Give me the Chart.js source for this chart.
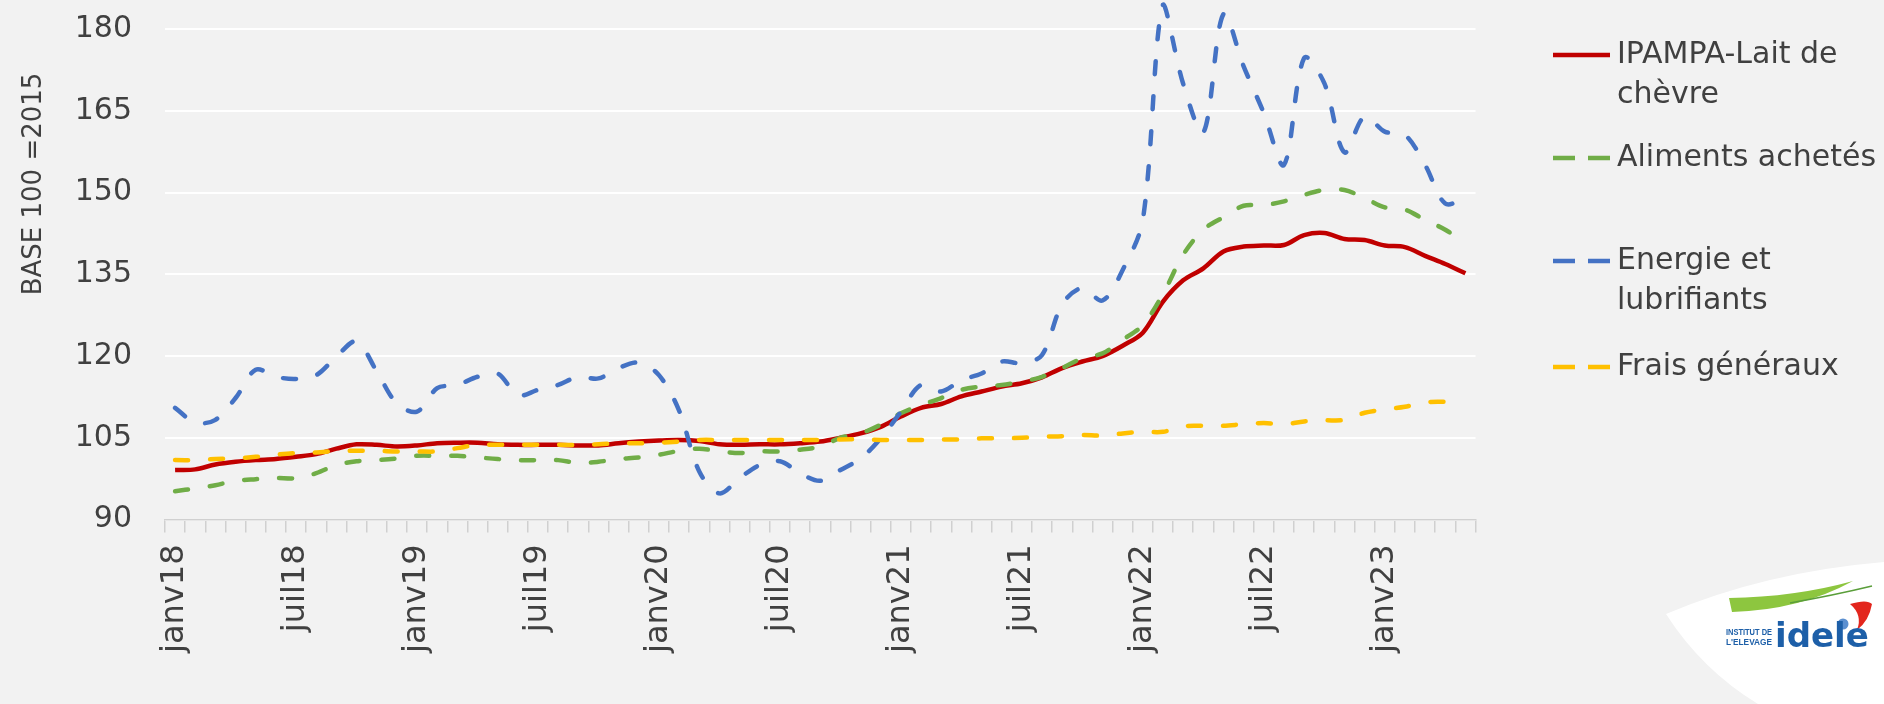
<!DOCTYPE html>
<html><head><meta charset="utf-8">
<script src="https://cdn.jsdelivr.net/npm/chart.js@4.4.1/dist/chart.umd.min.js"></script>
<style>
html,body{margin:0;padding:0;background:#f2f2f2;}
#wrap{position:relative;width:1884px;height:704px;}
</style></head><body>
<div id="wrap"><canvas id="c"></canvas></div>
<script>
const months = ['janv','févr','mars','avr','mai','juin','juil','août','sept','oct','nov','déc'];
const years = ['18','19','20','21','22','23'];
const categories = years.flatMap(y => months.map(m => m + y)).slice(0, 65);

const ipampa = [99.1,99.2,100.1,100.6,100.9,101.1,101.5,102.0,103.0,103.8,103.7,103.4,103.6,104.0,104.1,104.1,103.8,103.7,103.7,103.7,103.6,103.6,104.0,104.3,104.5,104.6,104.4,103.8,103.7,103.8,103.8,104.0,104.3,105.0,105.8,107.0,108.9,110.5,111.2,112.6,113.5,114.4,115.0,116.1,117.8,119.0,120.0,121.9,124.3,130.0,133.9,136.1,139.2,140.1,140.3,140.4,142.2,142.6,141.5,141.3,140.3,140.0,138.4,136.9,135.2];
const aliments = [95.2,95.7,96.3,97.1,97.4,97.6,97.6,98.5,100.0,100.7,100.9,101.2,101.7,101.7,101.7,101.4,101.1,100.9,100.9,100.9,100.4,100.6,101.1,101.4,101.9,102.6,103.0,102.5,102.2,102.5,102.5,102.8,103.4,105.0,105.8,107.4,109.5,111.0,112.3,113.8,114.4,114.7,115.3,116.2,117.8,119.6,120.5,123.0,125.7,131.4,138.6,143.2,145.5,147.6,147.7,148.4,149.6,150.5,150.5,149.0,147.3,146.9,145.0,143.2,140.7];
const energie = [110.5,107.8,108.3,112.3,117.5,116.2,115.8,116.5,119.9,122.7,117.2,111.3,109.8,114.1,114.7,116.2,116.8,112.8,113.8,114.7,116.2,115.9,117.8,118.8,116.5,110.0,98.8,94.8,97.6,100.0,100.7,98.5,97.1,99.1,101.2,104.9,109.8,114.7,113.5,115.6,116.8,119.0,118.7,120.2,129.5,132.5,130.2,135.8,145.0,184.5,170.0,161.0,182.8,173.2,164.6,155.1,174.7,170.1,157.4,164.0,161.2,160.6,155.1,148.0,149.0];
const frais = [100.9,100.9,101.1,101.2,101.5,101.9,102.2,102.3,102.6,102.6,102.6,102.5,102.5,102.5,103.1,103.7,103.7,103.7,103.7,103.7,103.7,103.8,104.0,104.0,104.1,104.3,104.6,104.6,104.6,104.6,104.6,104.6,104.6,104.7,104.7,104.6,104.6,104.6,104.7,104.7,104.9,104.9,105.0,105.2,105.3,105.5,105.4,105.8,106.1,106.1,107.1,107.2,107.2,107.5,107.7,107.5,108.0,108.2,108.3,109.6,110.2,110.7,111.5,111.6,111.6];

const yTicks = [90, 105, 120, 135, 150, 165, 180];
const seriesNames = ['IPAMPA-Lait de chèvre', 'Aliments achetés', 'Energie et lubrifiants', 'Frais généraux'];
const legendLines = [['IPAMPA-Lait de', 'chèvre'], ['Aliments achetés'], ['Energie et', 'lubrifiants'], ['Frais généraux']];
const yTitle = 'BASE 100 =2015';
const logoLines = ['INSTITUT DE', "L'ELEVAGE", 'idele'];

const FONT = "'DejaVu Sans', sans-serif";
const TXT = '#404040';
const DASH = [13, 22];

const decor = {
  id: 'decor',
  afterDraw(chart) {
    const ctx = chart.ctx;
    // y axis title
    ctx.save();
    ctx.translate(34, 184);
    ctx.rotate(-Math.PI / 2);
    ctx.font = '26px ' + FONT;
    ctx.fillStyle = TXT;
    ctx.textAlign = 'center';
    ctx.textBaseline = 'middle';
    ctx.fillText(yTitle, 0, 0);
    ctx.restore();

    // legend
    const rowsY = [55, 158, 261, 367];
    ctx.save();
    ctx.font = '30px ' + FONT;
    ctx.fillStyle = TXT;
    ctx.textBaseline = 'middle';
    ctx.textAlign = 'left';
    chart.data.datasets.forEach((ds, k) => {
      const y = rowsY[k];
      ctx.save();
      ctx.strokeStyle = ds.borderColor;
      ctx.lineWidth = 4.5;
      ctx.lineCap = 'butt';
      ctx.setLineDash(ds.borderDash && ds.borderDash.length ? [22, 13] : []);
      ctx.beginPath();
      ctx.moveTo(1553, y);
      ctx.lineTo(1610, y);
      ctx.stroke();
      ctx.restore();
      legendLines[k].forEach((t, j) => ctx.fillText(t, 1617, y + j * 40));
    });
    ctx.restore();

    // logo
    ctx.save();
    ctx.fillStyle = '#ffffff';
    ctx.beginPath();
    ctx.moveTo(1666, 614);
    ctx.quadraticCurveTo(1765, 572, 1884, 562);
    ctx.lineTo(1884, 704);
    ctx.lineTo(1758, 704);
    ctx.quadraticCurveTo(1702, 670, 1666, 614);
    ctx.fill();
    ctx.fillStyle = '#8dc63f';
    ctx.beginPath();
    ctx.moveTo(1729, 598);
    ctx.quadraticCurveTo(1795, 597, 1853, 581);
    ctx.quadraticCurveTo(1800, 610, 1732, 612);
    ctx.closePath();
    ctx.fill();
    ctx.strokeStyle = '#5a9e3a';
    ctx.lineWidth = 1.5;
    ctx.beginPath();
    ctx.moveTo(1790, 603);
    ctx.quadraticCurveTo(1835, 595, 1872, 586);
    ctx.stroke();
    ctx.fillStyle = '#e3261d';
    ctx.beginPath();
    ctx.moveTo(1850, 604);
    ctx.quadraticCurveTo(1867, 599, 1872, 604);
    ctx.quadraticCurveTo(1869, 621, 1857, 630);
    ctx.quadraticCurveTo(1863, 615, 1850, 604);
    ctx.fill();
    ctx.fillStyle = '#5b8fd0';
    ctx.beginPath();
    ctx.arc(1843, 624, 5.5, 0, Math.PI * 2);
    ctx.fill();
    ctx.fillStyle = '#1d5fa8';
    ctx.textBaseline = 'alphabetic';
    ctx.textAlign = 'left';
    ctx.font = "bold 9px 'Liberation Sans', sans-serif";
    ctx.fillText(logoLines[0], 1726, 635, 46);
    ctx.fillText(logoLines[1], 1726, 645, 46);
    ctx.font = "bold 34px 'DejaVu Sans', sans-serif";
    ctx.fillText(logoLines[2], 1775, 647, 96);
    ctx.restore();
  }
};

new Chart(document.getElementById('c'), {
  type: 'line',
  data: {
    labels: categories,
    datasets: [
      { label: seriesNames[0], data: ipampa, borderColor: '#c00000', borderWidth: 4.5, borderDash: [], order: 4 },
      { label: seriesNames[1], data: aliments, borderColor: '#70ad47', borderWidth: 4.5, borderDash: DASH, borderCapStyle: 'round', order: 3 },
      { label: seriesNames[2], data: energie, borderColor: '#4472c4', borderWidth: 4.5, borderDash: DASH, borderCapStyle: 'round', order: 2 },
      { label: seriesNames[3], data: frais, borderColor: '#ffc000', borderWidth: 4.5, borderDash: DASH, borderCapStyle: 'round', order: 1 }
    ]
  },
  options: {
    responsive: true,
    maintainAspectRatio: false,
    animation: false,
    events: [],
    layout: { padding: { left: 0, top: 2, right: 408.5, bottom: 0 } },
    elements: { point: { radius: 0 }, line: { tension: 0.33, fill: false } },
    plugins: { legend: { display: false }, tooltip: { enabled: false } },
    scales: {
      x: {
        type: 'category',
        offset: true,
        grid: { offset: true, drawOnChartArea: false, drawTicks: true, tickLength: 13, color: '#d0d0d0', lineWidth: 1.5 },
        border: { color: '#d0d0d0', width: 1.5 },
        ticks: {
          autoSkip: false, maxRotation: 90, minRotation: 90, padding: 12,
          color: TXT, font: { family: FONT, size: 32 },
          callback: function (v, i) { return i % 6 === 0 ? this.getLabelForValue(v) : ''; }
        },
        afterFit: s => { s.height = 184.5; s.paddingLeft = 0; s.paddingRight = 0; }
      },
      y: {
        min: 90, max: 185,
        grid: { color: '#ffffff', lineWidth: 2, drawTicks: false },
        border: { display: false },
        ticks: { stepSize: 15, padding: 33, color: TXT, font: { family: FONT, size: 30 } },
        afterBuildTicks: s => { s.ticks = yTicks.map(v => ({ value: v })); },
        afterFit: s => { s.width = 165; s.paddingTop = 0; s.paddingBottom = 0; }
      }
    }
  },
  plugins: [decor]
});
</script>
</body></html>
